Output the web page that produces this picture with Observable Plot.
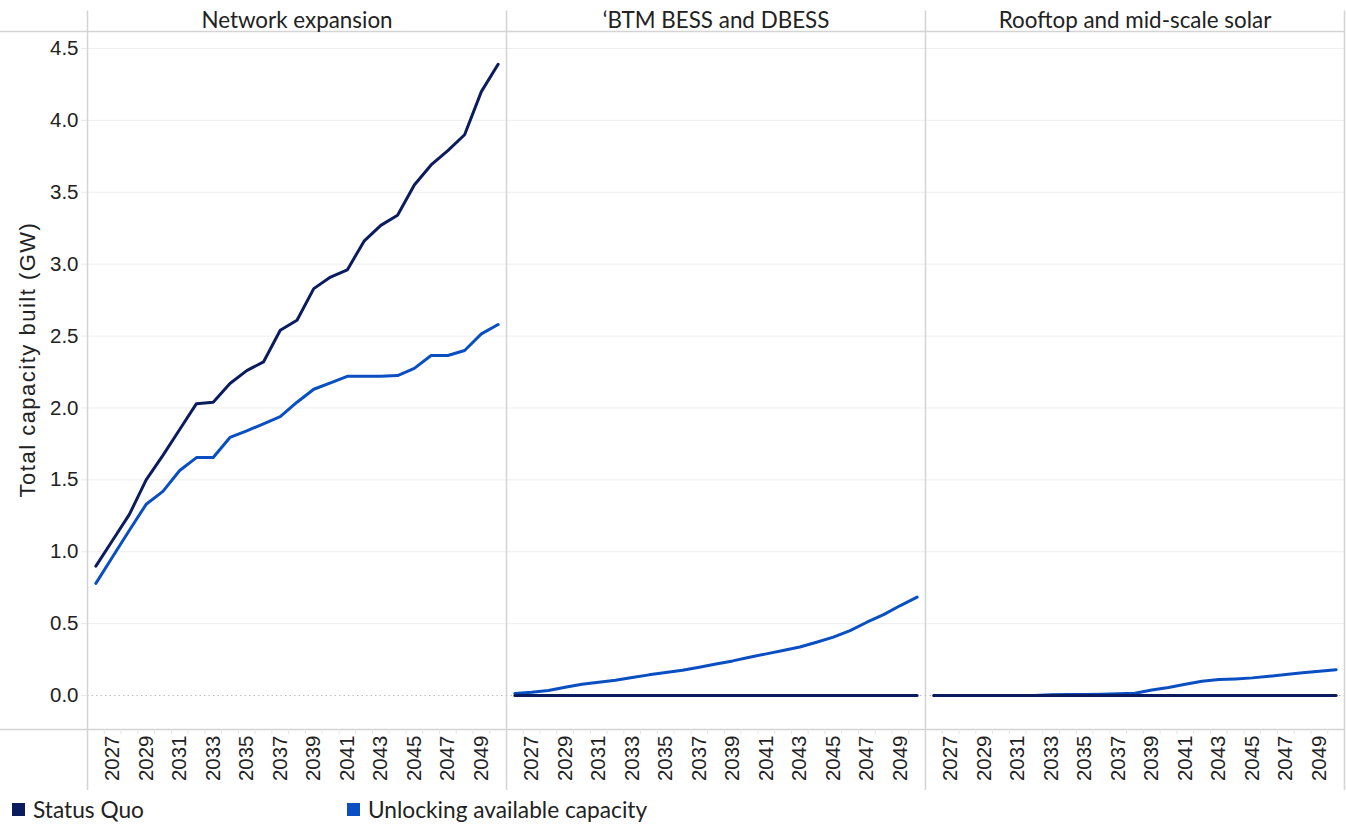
<!DOCTYPE html>
<html>
<head>
<meta charset="utf-8">
<script src="https://cdn.jsdelivr.net/npm/d3@7"></script>
<script src="https://cdn.jsdelivr.net/npm/@observablehq/plot@0.6"></script>
<style>
  html, body { margin: 0; padding: 0; background: #fff; }
  #chart { width: 1346px; }
  .legend { position: relative; height: 30px; font-family: "Lato", "Liberation Sans", Arial, sans-serif; font-size: 22.7px; color: #222; }
  .legend .item { position: absolute; top: 1px; display: flex; align-items: center; }
  .legend .sw { width: 13px; height: 13px; margin-right: 8px; }
</style>
</head>
<body>
<div id="chart"></div>
<script>
const categories = ["Network expansion", "\u2018BTM BESS and DBESS", "Rooftop and mid-scale solar"];
const scenarios = ["Status Quo", "Unlocking available capacity"];
const colors = ["#0b1c5e", "#0a4fc2"];
const yTitle = "Total capacity built (GW)";
const years = [2026, 2027, 2028, 2029, 2030, 2031, 2032, 2033, 2034, 2035, 2036, 2037, 2038,
               2039, 2040, 2041, 2042, 2043, 2044, 2045, 2046, 2047, 2048, 2049, 2050];
const yearTickLabels = [2027, 2029, 2031, 2033, 2035, 2037, 2039, 2041, 2043, 2045, 2047, 2049];
const yTickLabels = [0, 0.5, 1, 1.5, 2, 2.5, 3, 3.5, 4, 4.5];

const networkStatusQuo = [0.90, 1.08, 1.26, 1.50, 1.67, 1.85, 2.03, 2.04, 2.17, 2.26, 2.32, 2.54, 2.61,
                          2.83, 2.91, 2.96, 3.16, 3.27, 3.34, 3.55, 3.69, 3.79, 3.90, 4.20, 4.39];
const networkUnlocking = [0.78, 0.965, 1.15, 1.33, 1.42, 1.565, 1.655, 1.655, 1.795, 1.84, 1.89, 1.94, 2.04,
                          2.13, 2.175, 2.22, 2.22, 2.22, 2.225, 2.275, 2.365, 2.365, 2.40, 2.515, 2.58];
const btmStatusQuo = [0, 0, 0, 0, 0, 0, 0, 0, 0, 0, 0, 0, 0, 0, 0, 0, 0, 0, 0, 0, 0, 0, 0, 0, 0];
const btmUnlocking = [0.015, 0.023, 0.035, 0.058, 0.079, 0.093, 0.107, 0.125, 0.144, 0.16, 0.176, 0.197, 0.22,
                      0.241, 0.267, 0.29, 0.313, 0.338, 0.371, 0.406, 0.452, 0.51, 0.563, 0.626, 0.685];
const solarStatusQuo = [0, 0, 0, 0, 0, 0, 0, 0, 0, 0, 0, 0, 0, 0, 0, 0, 0, 0, 0, 0, 0, 0, 0, 0, 0];
const solarUnlocking = [0, 0, 0, 0, 0, 0, 0, 0.005, 0.007, 0.007, 0.009, 0.012, 0.016,
                        0.039, 0.056, 0.079, 0.10, 0.111, 0.116, 0.123, 0.134, 0.146, 0.158, 0.169, 0.18];

const seriesByCategory = [
  [networkStatusQuo, networkUnlocking],
  [btmStatusQuo, btmUnlocking],
  [solarStatusQuo, solarUnlocking]
];

// Unlocking drawn first so Status Quo sits on top
const rows = [];
for (const si of [1, 0]) {
  categories.forEach((cat, ci) => {
    years.forEach((yr, i) => {
      rows.push({category: cat, scenario: scenarios[si], key: cat + "|" + scenarios[si], year: yr, value: seriesByCategory[ci][si][i]});
    });
  });
}

const yMin = -0.236, yMax = 4.618;
const xMin = years[0] - 0.5, xMax = years[years.length - 1] + 0.5;
const boundaries = years.slice(1).map(y => y - 0.5);
const firstPanel = () => categories[0];
const lastPanel = () => categories[2];

const plot = Plot.plot({
  width: 1346,
  height: 795,
  marginLeft: 86,
  marginRight: 1,
  marginTop: 31,
  marginBottom: 66,
  style: {fontFamily: "'Liberation Sans', Arial, sans-serif", fontSize: "20.5px", color: "#222", background: "#fff"},
  fx: {domain: categories, padding: 0, label: null},
  x: {domain: [xMin, xMax], label: null},
  y: {domain: [yMin, yMax], label: null},
  color: {domain: scenarios, range: colors},
  marks: [
    // gridlines
    Plot.ruleY(yTickLabels.filter(d => d !== 0), {stroke: "#eeeeee", strokeWidth: 1}),
    Plot.ruleY([0], {stroke: "#bbbbbb", strokeDasharray: "1.5,3", strokeWidth: 1}),
    // table borders (horizontal)
    Plot.ruleY([yMin, yMax], {stroke: "#d4d4d4", strokeWidth: 1.5}),
    Plot.ruleY([yMin, yMax], {fx: firstPanel, x1: xMin - 5.4, x2: xMin, stroke: "#d4d4d4", strokeWidth: 1.5, clip: false}),
    // panel dividers
    Plot.ruleX([xMin], {y1: 4.76, y2: -0.66, stroke: "#d4d4d4", strokeWidth: 1.5, clip: false}),
    Plot.ruleX([xMax], {fx: lastPanel, y1: 4.76, y2: -0.66, stroke: "#d4d4d4", strokeWidth: 1.5, clip: false}),
    // small ticks at band boundaries
    Plot.ruleX(boundaries, {y1: yMin, y2: yMin - 0.035, stroke: "#e4e4e4", clip: false}),
    // axes
    Plot.axisFx({anchor: "top", tickSize: 0, tickPadding: 4, label: null, fontFamily: "'Lato', 'Liberation Sans', sans-serif", fontSize: 22.4}),
    Plot.axisX({ticks: yearTickLabels, tickFormat: "d", tickRotate: -90, tickSize: 0, tickPadding: 6, label: null}),
    Plot.axisY({ticks: yTickLabels, tickFormat: ".1f", tickSize: 6, tickPadding: 3, stroke: "#e8e8e8", label: null}),
    Plot.text([yTitle], {fx: firstPanel, frameAnchor: "left", textAnchor: "middle", dx: -60, dy: -21, rotate: -90, fontSize: 22}),
    // data
    Plot.line(rows, {fx: "category", x: "year", y: "value", z: "key", stroke: "scenario", strokeWidth: 3, strokeLinejoin: "round", strokeLinecap: "round"})
  ]
});

d3.select(plot).selectAll("text").filter(function() { return this.textContent === yTitle; }).style("letter-spacing", "1.5px");

document.getElementById("chart").appendChild(plot);

const legend = document.createElement("div");
legend.className = "legend";
const legendX = [12, 347];
scenarios.forEach((s, i) => {
  const item = document.createElement("div");
  item.className = "item";
  item.style.left = legendX[i] + "px";
  const sw = document.createElement("span");
  sw.className = "sw";
  sw.style.background = colors[i];
  const t = document.createElement("span");
  t.textContent = s;
  item.appendChild(sw);
  item.appendChild(t);
  legend.appendChild(item);
});
document.getElementById("chart").appendChild(legend);
</script>
</body>
</html>
